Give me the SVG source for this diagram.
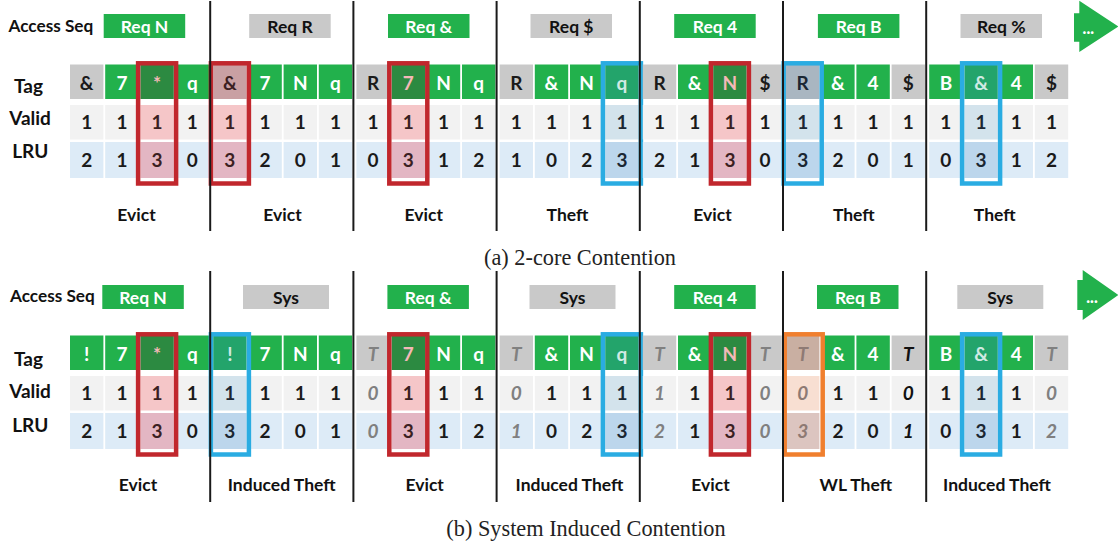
<svg xmlns="http://www.w3.org/2000/svg" width="1118" height="543" viewBox="0 0 1118 543">
  <style>
    text { font-family: Lato, "Liberation Sans", sans-serif; font-weight: bold; }
    .g { fill: #22B14C; }
    .k { fill: #C9C9C9; }
    .v { fill: #F2F2F2; }
    .l { fill: #DDEBF7; }
    .c { font-size: 19px; text-anchor: middle; fill: #1A1A1A; }
    .w { fill: #FFFFFF; }
    .i { font-style: italic; fill: #808080; }
    .ib { font-style: italic; fill: #111111; }
    .hd { font-size: 17.5px; text-anchor: middle; }
    .lab { font-size: 17.5px; text-anchor: middle; fill: #111111; }
    .row { font-size: 19px; text-anchor: middle; fill: #111111; }
    .seq { font-size: 17.2px; fill: #111111; }
    .cap { font-family: "Liberation Serif", "Times New Roman", serif; font-weight: normal; font-size: 22.3px; text-anchor: middle; fill: #222222; }
    /* highlight fills */
    .rg { fill: #2C8A41; } .rk { fill: #C9A0A3; } .rv { fill: #F5C6C8; } .rl { fill: #E3B6C3; }
    .bg { fill: #23A46B; } .bk { fill: #A9B6C1; } .bv { fill: #D3E3EC; } .bl { fill: #BCD6EC; }
    .ok { fill: #C9AFA2; } .ov { fill: #F8DFD2; } .ol { fill: #DCC5C0; }
    .rt { fill: #F4B8B8; } .rd { fill: #3B1F22; }
    .bt { fill: #CFEAE4; } .bd { fill: #1B2733; }
    .od { fill: #8E7A74; font-style: italic; }
    .rb { fill: none; stroke: #C1272D; stroke-width: 4.5; }
    .bb { fill: none; stroke: #2AACE2; stroke-width: 4.5; }
    .ob { fill: none; stroke: #F07F2E; stroke-width: 4.5; }
    .div { stroke: #1A1A1A; stroke-width: 2; }
    .dots { font-size: 16px; text-anchor: middle; fill: #FFFFFF; font-weight: 900; }
  </style>

  <!-- ===== Panel (a): 2-core contention ===== -->
  <g id="panel-a">
    <g id="a-labels">
      <text class="seq" x="8.5" y="31.7">Access Seq</text>
      <text class="row" x="28.5" y="93.3">Tag</text>
      <text class="row" x="30" y="125">Valid</text>
      <text class="row" x="30.3" y="158.3">LRU</text>
    </g>

    <!-- step 1 -->
    <g id="a1" transform="translate(70,0)">
      <rect class="g" x="33.7" y="14" width="81.5" height="24"/><text class="hd w" x="74.5" y="33.3">Req N</text>
      <rect class="k" x="0" y="64.5" width="33.4" height="34.5"/><text class="c" x="16.7" y="89.5">&amp;</text>
      <rect class="g" x="35.2" y="64.5" width="33.4" height="34.5"/><text class="c w" x="51.9" y="89.5">7</text>
      <rect class="rg" x="70.4" y="64.5" width="33.4" height="34.5"/><text class="c rt" x="87.1" y="89.5">*</text>
      <rect class="g" x="105.6" y="64.5" width="33.4" height="34.5"/><text class="c w" x="122.3" y="89.5">q</text>
      <rect class="v" x="0" y="105" width="33.4" height="34.5"/><text class="c" x="16.7" y="128.5">1</text>
      <rect class="v" x="35.2" y="105" width="33.4" height="34.5"/><text class="c" x="51.9" y="128.5">1</text>
      <rect class="rv" x="70.4" y="105" width="33.4" height="34.5"/><text class="c rd" x="87.1" y="128.5">1</text>
      <rect class="v" x="105.6" y="105" width="33.4" height="34.5"/><text class="c" x="122.3" y="128.5">1</text>
      <rect class="l" x="0" y="142" width="33.4" height="36"/><text class="c" x="16.7" y="166.5">2</text>
      <rect class="l" x="35.2" y="142" width="33.4" height="36"/><text class="c" x="51.9" y="166.5">1</text>
      <rect class="rl" x="70.4" y="142" width="33.4" height="36"/><text class="c rd" x="87.1" y="166.5">3</text>
      <rect class="l" x="105.6" y="142" width="33.4" height="36"/><text class="c" x="122.3" y="166.5">0</text>
      <rect class="rb" x="68.1" y="63.3" width="38" height="120.2"/>
      <text class="lab" x="66.5" y="220.7">Evict</text>
    </g>

    <!-- step 2 -->
    <g id="a2" transform="translate(213.2,0)">
      <rect class="k" x="36" y="14" width="81.5" height="24"/><text class="hd" x="76.8" y="33.3" fill="#111">Req R</text>
      <rect class="rk" x="0" y="64.5" width="33.4" height="34.5"/><text class="c rd" x="16.7" y="89.5">&amp;</text>
      <rect class="g" x="35.2" y="64.5" width="33.4" height="34.5"/><text class="c w" x="51.9" y="89.5">7</text>
      <rect class="g" x="70.4" y="64.5" width="33.4" height="34.5"/><text class="c w" x="87.1" y="89.5">N</text>
      <rect class="g" x="105.6" y="64.5" width="33.4" height="34.5"/><text class="c w" x="122.3" y="89.5">q</text>
      <rect class="rv" x="0" y="105" width="33.4" height="34.5"/><text class="c rd" x="16.7" y="128.5">1</text>
      <rect class="v" x="35.2" y="105" width="33.4" height="34.5"/><text class="c" x="51.9" y="128.5">1</text>
      <rect class="v" x="70.4" y="105" width="33.4" height="34.5"/><text class="c" x="87.1" y="128.5">1</text>
      <rect class="v" x="105.6" y="105" width="33.4" height="34.5"/><text class="c" x="122.3" y="128.5">1</text>
      <rect class="rl" x="0" y="142" width="33.4" height="36"/><text class="c rd" x="16.7" y="166.5">3</text>
      <rect class="l" x="35.2" y="142" width="33.4" height="36"/><text class="c" x="51.9" y="166.5">2</text>
      <rect class="l" x="70.4" y="142" width="33.4" height="36"/><text class="c" x="87.1" y="166.5">0</text>
      <rect class="l" x="105.6" y="142" width="33.4" height="36"/><text class="c" x="122.3" y="166.5">1</text>
      <rect class="rb" x="-2.3" y="63.3" width="38" height="120.2"/>
      <text class="lab" x="69.3" y="220.7">Evict</text>
    </g>

    <!-- step 3 -->
    <g id="a3" transform="translate(356.4,0)">
      <rect class="g" x="31.6" y="14" width="81.5" height="24"/><text class="hd w" x="72.4" y="33.3">Req &amp;</text>
      <rect class="k" x="0" y="64.5" width="33.4" height="34.5"/><text class="c" x="16.7" y="89.5">R</text>
      <rect class="rg" x="35.2" y="64.5" width="33.4" height="34.5"/><text class="c rt" x="51.9" y="89.5">7</text>
      <rect class="g" x="70.4" y="64.5" width="33.4" height="34.5"/><text class="c w" x="87.1" y="89.5">N</text>
      <rect class="g" x="105.6" y="64.5" width="33.4" height="34.5"/><text class="c w" x="122.3" y="89.5">q</text>
      <rect class="v" x="0" y="105" width="33.4" height="34.5"/><text class="c" x="16.7" y="128.5">1</text>
      <rect class="rv" x="35.2" y="105" width="33.4" height="34.5"/><text class="c rd" x="51.9" y="128.5">1</text>
      <rect class="v" x="70.4" y="105" width="33.4" height="34.5"/><text class="c" x="87.1" y="128.5">1</text>
      <rect class="v" x="105.6" y="105" width="33.4" height="34.5"/><text class="c" x="122.3" y="128.5">1</text>
      <rect class="l" x="0" y="142" width="33.4" height="36"/><text class="c" x="16.7" y="166.5">0</text>
      <rect class="rl" x="35.2" y="142" width="33.4" height="36"/><text class="c rd" x="51.9" y="166.5">3</text>
      <rect class="l" x="70.4" y="142" width="33.4" height="36"/><text class="c" x="87.1" y="166.5">1</text>
      <rect class="l" x="105.6" y="142" width="33.4" height="36"/><text class="c" x="122.3" y="166.5">2</text>
      <rect class="rb" x="32.9" y="63.3" width="38" height="120.2"/>
      <text class="lab" x="67.4" y="220.7">Evict</text>
    </g>

    <!-- step 4 -->
    <g id="a4" transform="translate(499.6,0)">
      <rect class="k" x="30.9" y="14" width="81.5" height="24"/><text class="hd" x="71.7" y="33.3" fill="#111">Req $</text>
      <rect class="k" x="0" y="64.5" width="33.4" height="34.5"/><text class="c" x="16.7" y="89.5">R</text>
      <rect class="g" x="35.2" y="64.5" width="33.4" height="34.5"/><text class="c w" x="51.9" y="89.5">&amp;</text>
      <rect class="g" x="70.4" y="64.5" width="33.4" height="34.5"/><text class="c w" x="87.1" y="89.5">N</text>
      <rect class="bg" x="105.6" y="64.5" width="33.4" height="34.5"/><text class="c bt" x="122.3" y="89.5">q</text>
      <rect class="v" x="0" y="105" width="33.4" height="34.5"/><text class="c" x="16.7" y="128.5">1</text>
      <rect class="v" x="35.2" y="105" width="33.4" height="34.5"/><text class="c" x="51.9" y="128.5">1</text>
      <rect class="v" x="70.4" y="105" width="33.4" height="34.5"/><text class="c" x="87.1" y="128.5">1</text>
      <rect class="bv" x="105.6" y="105" width="33.4" height="34.5"/><text class="c bd" x="122.3" y="128.5">1</text>
      <rect class="l" x="0" y="142" width="33.4" height="36"/><text class="c" x="16.7" y="166.5">1</text>
      <rect class="l" x="35.2" y="142" width="33.4" height="36"/><text class="c" x="51.9" y="166.5">0</text>
      <rect class="l" x="70.4" y="142" width="33.4" height="36"/><text class="c" x="87.1" y="166.5">2</text>
      <rect class="bl" x="105.6" y="142" width="33.4" height="36"/><text class="c bd" x="122.3" y="166.5">3</text>
      <rect class="bb" x="103.3" y="63.3" width="38" height="120.2"/>
      <text class="lab" x="67.9" y="220.7">Theft</text>
    </g>

    <!-- step 5 -->
    <g id="a5" transform="translate(642.8,0)">
      <rect class="g" x="31.4" y="14" width="81.5" height="24"/><text class="hd w" x="72.2" y="33.3">Req 4</text>
      <rect class="k" x="0" y="64.5" width="33.4" height="34.5"/><text class="c" x="16.7" y="89.5">R</text>
      <rect class="g" x="35.2" y="64.5" width="33.4" height="34.5"/><text class="c w" x="51.9" y="89.5">&amp;</text>
      <rect class="rg" x="70.4" y="64.5" width="33.4" height="34.5"/><text class="c rt" x="87.1" y="89.5">N</text>
      <rect class="k" x="105.6" y="64.5" width="33.4" height="34.5"/><text class="c" x="122.3" y="89.5">$</text>
      <rect class="v" x="0" y="105" width="33.4" height="34.5"/><text class="c" x="16.7" y="128.5">1</text>
      <rect class="v" x="35.2" y="105" width="33.4" height="34.5"/><text class="c" x="51.9" y="128.5">1</text>
      <rect class="rv" x="70.4" y="105" width="33.4" height="34.5"/><text class="c rd" x="87.1" y="128.5">1</text>
      <rect class="v" x="105.6" y="105" width="33.4" height="34.5"/><text class="c" x="122.3" y="128.5">1</text>
      <rect class="l" x="0" y="142" width="33.4" height="36"/><text class="c" x="16.7" y="166.5">2</text>
      <rect class="l" x="35.2" y="142" width="33.4" height="36"/><text class="c" x="51.9" y="166.5">1</text>
      <rect class="rl" x="70.4" y="142" width="33.4" height="36"/><text class="c rd" x="87.1" y="166.5">3</text>
      <rect class="l" x="105.6" y="142" width="33.4" height="36"/><text class="c" x="122.3" y="166.5">0</text>
      <rect class="rb" x="68.1" y="63.3" width="38" height="120.2"/>
      <text class="lab" x="69.7" y="220.7">Evict</text>
    </g>

    <!-- step 6 -->
    <g id="a6" transform="translate(786,0)">
      <rect class="g" x="31.9" y="14" width="81.5" height="24"/><text class="hd w" x="72.7" y="33.3">Req B</text>
      <rect class="bk" x="0" y="64.5" width="33.4" height="34.5"/><text class="c bd" x="16.7" y="89.5">R</text>
      <rect class="g" x="35.2" y="64.5" width="33.4" height="34.5"/><text class="c w" x="51.9" y="89.5">&amp;</text>
      <rect class="g" x="70.4" y="64.5" width="33.4" height="34.5"/><text class="c w" x="87.1" y="89.5">4</text>
      <rect class="k" x="105.6" y="64.5" width="33.4" height="34.5"/><text class="c" x="122.3" y="89.5">$</text>
      <rect class="bv" x="0" y="105" width="33.4" height="34.5"/><text class="c bd" x="16.7" y="128.5">1</text>
      <rect class="v" x="35.2" y="105" width="33.4" height="34.5"/><text class="c" x="51.9" y="128.5">1</text>
      <rect class="v" x="70.4" y="105" width="33.4" height="34.5"/><text class="c" x="87.1" y="128.5">1</text>
      <rect class="v" x="105.6" y="105" width="33.4" height="34.5"/><text class="c" x="122.3" y="128.5">1</text>
      <rect class="bl" x="0" y="142" width="33.4" height="36"/><text class="c bd" x="16.7" y="166.5">3</text>
      <rect class="l" x="35.2" y="142" width="33.4" height="36"/><text class="c" x="51.9" y="166.5">2</text>
      <rect class="l" x="70.4" y="142" width="33.4" height="36"/><text class="c" x="87.1" y="166.5">0</text>
      <rect class="l" x="105.6" y="142" width="33.4" height="36"/><text class="c" x="122.3" y="166.5">1</text>
      <rect class="bb" x="-2.3" y="63.3" width="38" height="120.2"/>
      <text class="lab" x="67.8" y="220.7">Theft</text>
    </g>

    <!-- step 7 -->
    <g id="a7" transform="translate(929.2,0)">
      <rect class="k" x="31.3" y="14" width="81.5" height="24"/><text class="hd" x="72.1" y="33.3" fill="#111">Req %</text>
      <rect class="g" x="0" y="64.5" width="33.4" height="34.5"/><text class="c w" x="16.7" y="89.5">B</text>
      <rect class="bg" x="35.2" y="64.5" width="33.4" height="34.5"/><text class="c bt" x="51.9" y="89.5">&amp;</text>
      <rect class="g" x="70.4" y="64.5" width="33.4" height="34.5"/><text class="c w" x="87.1" y="89.5">4</text>
      <rect class="k" x="105.6" y="64.5" width="33.4" height="34.5"/><text class="c" x="122.3" y="89.5">$</text>
      <rect class="v" x="0" y="105" width="33.4" height="34.5"/><text class="c" x="16.7" y="128.5">1</text>
      <rect class="bv" x="35.2" y="105" width="33.4" height="34.5"/><text class="c bd" x="51.9" y="128.5">1</text>
      <rect class="v" x="70.4" y="105" width="33.4" height="34.5"/><text class="c" x="87.1" y="128.5">1</text>
      <rect class="v" x="105.6" y="105" width="33.4" height="34.5"/><text class="c" x="122.3" y="128.5">1</text>
      <rect class="l" x="0" y="142" width="33.4" height="36"/><text class="c" x="16.7" y="166.5">0</text>
      <rect class="bl" x="35.2" y="142" width="33.4" height="36"/><text class="c bd" x="51.9" y="166.5">3</text>
      <rect class="l" x="70.4" y="142" width="33.4" height="36"/><text class="c" x="87.1" y="166.5">1</text>
      <rect class="l" x="105.6" y="142" width="33.4" height="36"/><text class="c" x="122.3" y="166.5">2</text>
      <rect class="bb" x="32.9" y="63.3" width="38" height="120.2"/>
      <text class="lab" x="65.5" y="220.7">Theft</text>
    </g>

    <g id="a-more">
      <polygon class="g" points="1074,13.3 1079.3,13.3 1079.3,0.7 1118.5,26.5 1079.3,52 1079.3,41.7 1074,41.7"/>
      <text class="dots" x="1088.3" y="34">...</text>
    </g>

    <text class="cap" x="580" y="264.5">(a) 2-core Contention</text>
  </g>

  <!-- ===== Panel (b): system induced contention ===== -->
  <g id="panel-b" transform="translate(0,271)">
    <g id="b-labels">
      <text class="seq" x="10" y="30.7">Access Seq</text>
      <text class="row" x="28.5" y="94.5">Tag</text>
      <text class="row" x="30" y="127">Valid</text>
      <text class="row" x="30.3" y="160.5">LRU</text>
    </g>

    <!-- step 1 -->
    <g id="b1" transform="translate(70,0)">
      <rect class="g" x="32.3" y="14" width="81.5" height="24"/><text class="hd w" x="73" y="33.3">Req N</text>
      <rect class="g" x="0" y="64.5" width="33.4" height="34.5"/><text class="c w" x="16.7" y="89.5">!</text>
      <rect class="g" x="35.2" y="64.5" width="33.4" height="34.5"/><text class="c w" x="51.9" y="89.5">7</text>
      <rect class="rg" x="70.4" y="64.5" width="33.4" height="34.5"/><text class="c rt" x="87.1" y="89.5">*</text>
      <rect class="g" x="105.6" y="64.5" width="33.4" height="34.5"/><text class="c w" x="122.3" y="89.5">q</text>
      <rect class="v" x="0" y="105" width="33.4" height="34.5"/><text class="c" x="16.7" y="128.5">1</text>
      <rect class="v" x="35.2" y="105" width="33.4" height="34.5"/><text class="c" x="51.9" y="128.5">1</text>
      <rect class="rv" x="70.4" y="105" width="33.4" height="34.5"/><text class="c rd" x="87.1" y="128.5">1</text>
      <rect class="v" x="105.6" y="105" width="33.4" height="34.5"/><text class="c" x="122.3" y="128.5">1</text>
      <rect class="l" x="0" y="142" width="33.4" height="36"/><text class="c" x="16.7" y="166.5">2</text>
      <rect class="l" x="35.2" y="142" width="33.4" height="36"/><text class="c" x="51.9" y="166.5">1</text>
      <rect class="rl" x="70.4" y="142" width="33.4" height="36"/><text class="c rd" x="87.1" y="166.5">3</text>
      <rect class="l" x="105.6" y="142" width="33.4" height="36"/><text class="c" x="122.3" y="166.5">0</text>
      <rect class="rb" x="68.1" y="63.3" width="38" height="120.2"/>
      <text class="lab" x="68" y="219.5">Evict</text>
    </g>

    <!-- step 2 -->
    <g id="b2" transform="translate(213.2,0)">
      <rect class="k" x="29.8" y="14" width="86" height="24"/><text class="hd" x="72.8" y="33.3" fill="#111">Sys</text>
      <rect class="bg" x="0" y="64.5" width="33.4" height="34.5"/><text class="c bt" x="16.7" y="89.5">!</text>
      <rect class="g" x="35.2" y="64.5" width="33.4" height="34.5"/><text class="c w" x="51.9" y="89.5">7</text>
      <rect class="g" x="70.4" y="64.5" width="33.4" height="34.5"/><text class="c w" x="87.1" y="89.5">N</text>
      <rect class="g" x="105.6" y="64.5" width="33.4" height="34.5"/><text class="c w" x="122.3" y="89.5">q</text>
      <rect class="bv" x="0" y="105" width="33.4" height="34.5"/><text class="c bd" x="16.7" y="128.5">1</text>
      <rect class="v" x="35.2" y="105" width="33.4" height="34.5"/><text class="c" x="51.9" y="128.5">1</text>
      <rect class="v" x="70.4" y="105" width="33.4" height="34.5"/><text class="c" x="87.1" y="128.5">1</text>
      <rect class="v" x="105.6" y="105" width="33.4" height="34.5"/><text class="c" x="122.3" y="128.5">1</text>
      <rect class="bl" x="0" y="142" width="33.4" height="36"/><text class="c bd" x="16.7" y="166.5">3</text>
      <rect class="l" x="35.2" y="142" width="33.4" height="36"/><text class="c" x="51.9" y="166.5">2</text>
      <rect class="l" x="70.4" y="142" width="33.4" height="36"/><text class="c" x="87.1" y="166.5">0</text>
      <rect class="l" x="105.6" y="142" width="33.4" height="36"/><text class="c" x="122.3" y="166.5">1</text>
      <rect class="bb" x="-2.3" y="63.3" width="38" height="120.2"/>
      <text class="lab" x="68.5" y="219.5">Induced Theft</text>
    </g>

    <!-- step 3 -->
    <g id="b3" transform="translate(356.4,0)">
      <rect class="g" x="31" y="14" width="81.5" height="24"/><text class="hd w" x="71.8" y="33.3">Req &amp;</text>
      <rect class="k" x="0" y="64.5" width="33.4" height="34.5"/><text class="c i" x="16.7" y="89.5">T</text>
      <rect class="rg" x="35.2" y="64.5" width="33.4" height="34.5"/><text class="c rt" x="51.9" y="89.5">7</text>
      <rect class="g" x="70.4" y="64.5" width="33.4" height="34.5"/><text class="c w" x="87.1" y="89.5">N</text>
      <rect class="g" x="105.6" y="64.5" width="33.4" height="34.5"/><text class="c w" x="122.3" y="89.5">q</text>
      <rect class="v" x="0" y="105" width="33.4" height="34.5"/><text class="c i" x="16.7" y="128.5">0</text>
      <rect class="rv" x="35.2" y="105" width="33.4" height="34.5"/><text class="c rd" x="51.9" y="128.5">1</text>
      <rect class="v" x="70.4" y="105" width="33.4" height="34.5"/><text class="c" x="87.1" y="128.5">1</text>
      <rect class="v" x="105.6" y="105" width="33.4" height="34.5"/><text class="c" x="122.3" y="128.5">1</text>
      <rect class="l" x="0" y="142" width="33.4" height="36"/><text class="c i" x="16.7" y="166.5">0</text>
      <rect class="rl" x="35.2" y="142" width="33.4" height="36"/><text class="c rd" x="51.9" y="166.5">3</text>
      <rect class="l" x="70.4" y="142" width="33.4" height="36"/><text class="c" x="87.1" y="166.5">1</text>
      <rect class="l" x="105.6" y="142" width="33.4" height="36"/><text class="c" x="122.3" y="166.5">2</text>
      <rect class="rb" x="32.9" y="63.3" width="38" height="120.2"/>
      <text class="lab" x="68.3" y="219.5">Evict</text>
    </g>

    <!-- step 4 -->
    <g id="b4" transform="translate(499.6,0)">
      <rect class="k" x="29.9" y="14" width="86" height="24"/><text class="hd" x="72.9" y="33.3" fill="#111">Sys</text>
      <rect class="k" x="0" y="64.5" width="33.4" height="34.5"/><text class="c i" x="16.7" y="89.5">T</text>
      <rect class="g" x="35.2" y="64.5" width="33.4" height="34.5"/><text class="c w" x="51.9" y="89.5">&amp;</text>
      <rect class="g" x="70.4" y="64.5" width="33.4" height="34.5"/><text class="c w" x="87.1" y="89.5">N</text>
      <rect class="bg" x="105.6" y="64.5" width="33.4" height="34.5"/><text class="c bt" x="122.3" y="89.5">q</text>
      <rect class="v" x="0" y="105" width="33.4" height="34.5"/><text class="c i" x="16.7" y="128.5">0</text>
      <rect class="v" x="35.2" y="105" width="33.4" height="34.5"/><text class="c" x="51.9" y="128.5">1</text>
      <rect class="v" x="70.4" y="105" width="33.4" height="34.5"/><text class="c" x="87.1" y="128.5">1</text>
      <rect class="bv" x="105.6" y="105" width="33.4" height="34.5"/><text class="c bd" x="122.3" y="128.5">1</text>
      <rect class="l" x="0" y="142" width="33.4" height="36"/><text class="c i" x="16.7" y="166.5">1</text>
      <rect class="l" x="35.2" y="142" width="33.4" height="36"/><text class="c" x="51.9" y="166.5">0</text>
      <rect class="l" x="70.4" y="142" width="33.4" height="36"/><text class="c" x="87.1" y="166.5">2</text>
      <rect class="bl" x="105.6" y="142" width="33.4" height="36"/><text class="c bd" x="122.3" y="166.5">3</text>
      <rect class="bb" x="103.3" y="63.3" width="38" height="120.2"/>
      <text class="lab" x="69.9" y="219.5">Induced Theft</text>
    </g>

    <!-- step 5 -->
    <g id="b5" transform="translate(642.8,0)">
      <rect class="g" x="31.4" y="14" width="81.5" height="24"/><text class="hd w" x="72.2" y="33.3">Req 4</text>
      <rect class="k" x="0" y="64.5" width="33.4" height="34.5"/><text class="c i" x="16.7" y="89.5">T</text>
      <rect class="g" x="35.2" y="64.5" width="33.4" height="34.5"/><text class="c w" x="51.9" y="89.5">&amp;</text>
      <rect class="rg" x="70.4" y="64.5" width="33.4" height="34.5"/><text class="c rt" x="87.1" y="89.5">N</text>
      <rect class="k" x="105.6" y="64.5" width="33.4" height="34.5"/><text class="c i" x="122.3" y="89.5">T</text>
      <rect class="v" x="0" y="105" width="33.4" height="34.5"/><text class="c i" x="16.7" y="128.5">1</text>
      <rect class="v" x="35.2" y="105" width="33.4" height="34.5"/><text class="c" x="51.9" y="128.5">1</text>
      <rect class="rv" x="70.4" y="105" width="33.4" height="34.5"/><text class="c rd" x="87.1" y="128.5">1</text>
      <rect class="v" x="105.6" y="105" width="33.4" height="34.5"/><text class="c i" x="122.3" y="128.5">0</text>
      <rect class="l" x="0" y="142" width="33.4" height="36"/><text class="c i" x="16.7" y="166.5">2</text>
      <rect class="l" x="35.2" y="142" width="33.4" height="36"/><text class="c" x="51.9" y="166.5">1</text>
      <rect class="rl" x="70.4" y="142" width="33.4" height="36"/><text class="c rd" x="87.1" y="166.5">3</text>
      <rect class="l" x="105.6" y="142" width="33.4" height="36"/><text class="c i" x="122.3" y="166.5">0</text>
      <rect class="rb" x="68.1" y="63.3" width="38" height="120.2"/>
      <text class="lab" x="67.7" y="219.5">Evict</text>
    </g>

    <!-- step 6 -->
    <g id="b6" transform="translate(786,0)">
      <rect class="g" x="31" y="14" width="81.5" height="24"/><text class="hd w" x="71.8" y="33.3">Req B</text>
      <rect class="ok" x="0" y="64.5" width="33.4" height="34.5"/><text class="c od" x="16.7" y="89.5">T</text>
      <rect class="g" x="35.2" y="64.5" width="33.4" height="34.5"/><text class="c w" x="51.9" y="89.5">&amp;</text>
      <rect class="g" x="70.4" y="64.5" width="33.4" height="34.5"/><text class="c w" x="87.1" y="89.5">4</text>
      <rect class="k" x="105.6" y="64.5" width="33.4" height="34.5"/><text class="c ib" x="122.3" y="89.5">T</text>
      <rect class="ov" x="0" y="105" width="33.4" height="34.5"/><text class="c od" x="16.7" y="128.5">0</text>
      <rect class="v" x="35.2" y="105" width="33.4" height="34.5"/><text class="c" x="51.9" y="128.5">1</text>
      <rect class="v" x="70.4" y="105" width="33.4" height="34.5"/><text class="c" x="87.1" y="128.5">1</text>
      <rect class="v" x="105.6" y="105" width="33.4" height="34.5"/><text class="c ib" x="122.3" y="128.5">0</text>
      <rect class="ol" x="0" y="142" width="33.4" height="36"/><text class="c od" x="16.7" y="166.5">3</text>
      <rect class="l" x="35.2" y="142" width="33.4" height="36"/><text class="c" x="51.9" y="166.5">2</text>
      <rect class="l" x="70.4" y="142" width="33.4" height="36"/><text class="c" x="87.1" y="166.5">0</text>
      <rect class="l" x="105.6" y="142" width="33.4" height="36"/><text class="c ib" x="122.3" y="166.5">1</text>
      <rect class="ob" x="-1.3" y="63.3" width="38" height="120.2"/>
      <text class="lab" x="69.8" y="219.5">WL Theft</text>
    </g>

    <!-- step 7 -->
    <g id="b7" transform="translate(929.2,0)">
      <rect class="k" x="28.1" y="14" width="86" height="24"/><text class="hd" x="71.1" y="33.3" fill="#111">Sys</text>
      <rect class="g" x="0" y="64.5" width="33.4" height="34.5"/><text class="c w" x="16.7" y="89.5">B</text>
      <rect class="bg" x="35.2" y="64.5" width="33.4" height="34.5"/><text class="c bt" x="51.9" y="89.5">&amp;</text>
      <rect class="g" x="70.4" y="64.5" width="33.4" height="34.5"/><text class="c w" x="87.1" y="89.5">4</text>
      <rect class="k" x="105.6" y="64.5" width="33.4" height="34.5"/><text class="c i" x="122.3" y="89.5">T</text>
      <rect class="v" x="0" y="105" width="33.4" height="34.5"/><text class="c" x="16.7" y="128.5">1</text>
      <rect class="bv" x="35.2" y="105" width="33.4" height="34.5"/><text class="c bd" x="51.9" y="128.5">1</text>
      <rect class="v" x="70.4" y="105" width="33.4" height="34.5"/><text class="c" x="87.1" y="128.5">1</text>
      <rect class="v" x="105.6" y="105" width="33.4" height="34.5"/><text class="c i" x="122.3" y="128.5">0</text>
      <rect class="l" x="0" y="142" width="33.4" height="36"/><text class="c" x="16.7" y="166.5">0</text>
      <rect class="bl" x="35.2" y="142" width="33.4" height="36"/><text class="c bd" x="51.9" y="166.5">3</text>
      <rect class="l" x="70.4" y="142" width="33.4" height="36"/><text class="c" x="87.1" y="166.5">1</text>
      <rect class="l" x="105.6" y="142" width="33.4" height="36"/><text class="c i" x="122.3" y="166.5">2</text>
      <rect class="bb" x="32.9" y="63.3" width="38" height="120.2"/>
      <text class="lab" x="67.8" y="219.5">Induced Theft</text>
    </g>

    <g id="b-more">
      <polygon class="g" points="1077.3,9 1082.7,9 1082.7,-1 1118.5,24 1082.7,49 1082.7,39 1077.3,39"/>
      <text class="dots" x="1092" y="32">...</text>
    </g>

    <text class="cap" x="586" y="265">(b) System Induced Contention</text>
  </g>

  <!-- step separators -->
  <g id="connectors">
    <line class="div" x1="210.2" y1="1" x2="210.2" y2="231"/>
    <line class="div" x1="353.4" y1="1" x2="353.4" y2="231"/>
    <line class="div" x1="496.6" y1="1" x2="496.6" y2="231"/>
    <line class="div" x1="639.8" y1="1" x2="639.8" y2="231"/>
    <line class="div" x1="783" y1="1" x2="783" y2="231"/>
    <line class="div" x1="926.2" y1="1" x2="926.2" y2="231"/>
    <line class="div" x1="210.2" y1="271" x2="210.2" y2="502"/>
    <line class="div" x1="353.4" y1="271" x2="353.4" y2="502"/>
    <line class="div" x1="496.6" y1="271" x2="496.6" y2="502"/>
    <line class="div" x1="639.8" y1="271" x2="639.8" y2="502"/>
    <line class="div" x1="783" y1="271" x2="783" y2="502"/>
    <line class="div" x1="926.2" y1="271" x2="926.2" y2="502"/>
  </g>
</svg>
